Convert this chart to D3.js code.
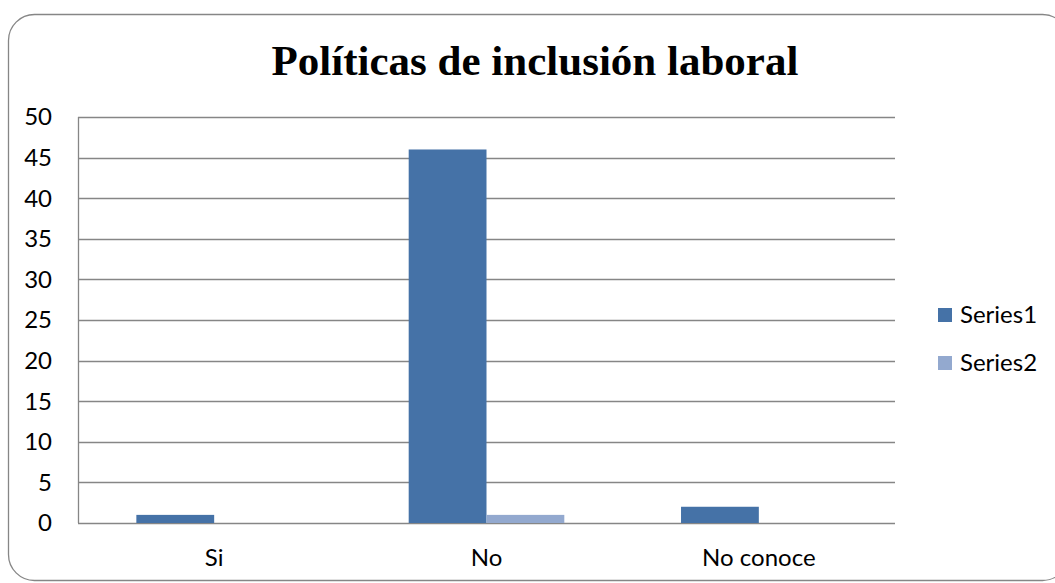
<!DOCTYPE html>
<html>
<head>
<meta charset="utf-8">
<script src="https://cdn.jsdelivr.net/npm/d3@7"></script>
<style>
  html, body { margin: 0; padding: 0; background: #fff; }
  svg { display: block; }
</style>
</head>
<body>
<div id="chart"></div>
<script>
var categories = ['Si', 'No', 'No conoce'];
var seriesNames = ['Series1', 'Series2'];
var series1 = [1, 46, 2];
var series2 = [0, 1, 0];
var yTicks = [0, 5, 10, 15, 20, 25, 30, 35, 40, 45, 50];
var colors = ['#4572a7', '#93a9cf'];

var width = 1055,
    height = 583,
    margin = { top: 117, right: 160, bottom: 60, left: 78 };

var svg = d3.select('#chart').append('svg')
    .attr('width', width)
    .attr('height', height);

// outer frame
svg.append('rect')
    .attr('x', 8.5).attr('y', 14.5)
    .attr('width', 1060).attr('height', 566)
    .attr('rx', 26).attr('ry', 26)
    .attr('fill', '#fff')
    .attr('stroke', '#868686')
    .attr('stroke-width', 1.3);

svg.append('text')
    .attr('x', 535).attr('y', 75)
    .attr('text-anchor', 'middle')
    .style('font-family', '"Liberation Serif", "Times New Roman", serif')
    .style('font-weight', 'bold')
    .style('font-size', '43px')
    .text('Políticas de inclusión laboral');

var plotW = width - margin.left - margin.right,
    plotH = height - margin.top - margin.bottom;

var g = svg.append('g')
    .attr('transform', 'translate(' + margin.left + ',' + margin.top + ')');

var x = d3.scaleBand()
    .domain(categories)
    .range([0, plotW])
    .paddingInner(0)
    .paddingOuter(0);

var x1 = d3.scaleBand()
    .domain(seriesNames)
    .range([0, x.bandwidth()])
    .paddingInner(0)
    .paddingOuter(0.75);

var y = d3.scaleLinear()
    .domain([0, 50])
    .range([plotH, 0]);

var labelFont = 'Lato, "Open Sans", sans-serif';

// gridlines
g.selectAll('.grid')
    .data(yTicks)
    .enter().append('line')
    .attr('x1', 0).attr('x2', plotW)
    .attr('y1', function (d) { return Math.round(y(d)) + 0.5; })
    .attr('y2', function (d) { return Math.round(y(d)) + 0.5; })
    .attr('stroke', '#868686')
    .attr('stroke-width', 1.3);

g.append('line')
    .attr('x1', 0.5).attr('x2', 0.5)
    .attr('y1', 0).attr('y2', plotH)
    .attr('stroke', '#868686')
    .attr('stroke-width', 1.3);

// y labels
g.selectAll('.ylab')
    .data(yTicks)
    .enter().append('text')
    .attr('x', -26)
    .attr('y', function (d) { return y(d); })
    .attr('dy', '0.35em')
    .attr('text-anchor', 'end')
    .style('font-family', labelFont)
    .style('font-size', '24px')
    .text(function (d) { return d; });

// x labels
g.selectAll('.xlab')
    .data(categories)
    .enter().append('text')
    .attr('x', function (d) { return x(d) + x.bandwidth() / 2; })
    .attr('y', plotH + 43)
    .attr('text-anchor', 'middle')
    .style('font-family', labelFont)
    .style('font-size', '24px')
    .text(function (d) { return d; });

var data = [series1, series2];

var cat = g.selectAll('.cat')
    .data(categories)
    .enter().append('g')
    .attr('transform', function (d) { return 'translate(' + x(d) + ',0)'; });

cat.selectAll('rect')
    .data(function (d, i) {
        return seriesNames.map(function (s, j) { return { s: s, v: data[j][i], c: colors[j] }; });
    })
    .enter().append('rect')
    .attr('x', function (d) { return x1(d.s); })
    .attr('width', x1.bandwidth())
    .attr('y', function (d) { return y(d.v); })
    .attr('height', function (d) { return plotH - y(d.v); })
    .attr('fill', function (d) { return d.c; });

// legend
var legend = svg.selectAll('.legend')
    .data(seriesNames)
    .enter().append('g')
    .attr('transform', function (d, i) { return 'translate(938,' + (308 + i * 48) + ')'; });

legend.append('rect')
    .attr('width', 14).attr('height', 14)
    .attr('fill', function (d, i) { return colors[i]; });

legend.append('text')
    .attr('x', 22).attr('y', 7)
    .attr('dy', '0.35em')
    .style('font-family', labelFont)
    .style('font-size', '24px')
    .text(function (d) { return d; });
</script>
</body>
</html>
